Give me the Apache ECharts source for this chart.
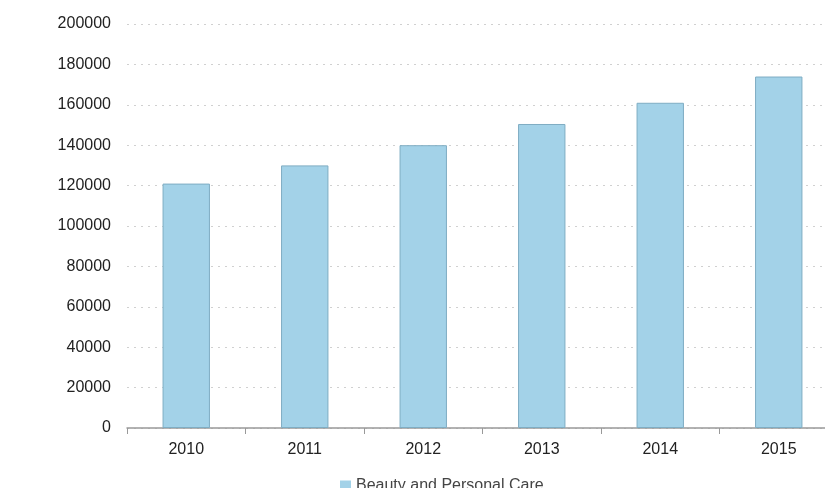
<!DOCTYPE html>
<html><head><meta charset="utf-8">
<script src="https://cdn.jsdelivr.net/npm/echarts@6/dist/echarts.min.js"></script>
<style>html,body{margin:0;padding:0;background:#fff;overflow:hidden;width:825px;height:488px}#c{width:838px;height:488px}</style>
</head><body><div id="c"></div>
<script>
const categories = ['2010','2011','2012','2013','2014','2015'];
const seriesName = 'Beauty and Personal Care';
const values = [121000, 130000, 140000, 150500, 161000, 174000];
const yTicks = {min: 0, max: 200000, interval: 20000};

const chart = echarts.init(document.getElementById('c'));
chart.setOption({
  backgroundColor: '#ffffff',
  animation: false,
  grid: {left: 127, right: 0, top: 24, height: 404, containLabel: false},
  legend: {
    left: 335, top: 473, itemWidth: 11, itemHeight: 11, icon: 'rect', itemGap: 10,
    itemStyle: {borderWidth: 0},
    textStyle: {fontFamily: 'Liberation Sans, Arial', fontSize: 16, color: '#444'},
    data: [seriesName]
  },
  xAxis: {
    type: 'category', data: categories,
    axisLine: {lineStyle: {color: '#999', width: 1.5}},
    axisTick: {show: true, length: 6, lineStyle: {color: '#999'}},
    axisLabel: {fontFamily: 'Liberation Sans, Arial', fontSize: 16, color: '#222', margin: 14}
  },
  yAxis: {
    type: 'value', min: yTicks.min, max: yTicks.max, interval: yTicks.interval,
    axisLine: {show: false}, axisTick: {show: false},
    axisLabel: {fontFamily: 'Liberation Sans, Arial', fontSize: 16, color: '#222', margin: 16,
      formatter: v => String(v)},
    splitLine: {lineStyle: {color: '#d0d0d0', type: [2, 5], width: 1}}
  },
  series: [{
    name: seriesName, type: 'bar', data: values, barWidth: '40%',
    itemStyle: {color: '#a3d2e8', borderColor: '#7fadc3', borderWidth: 1}
  }]
});
</script></body></html>
